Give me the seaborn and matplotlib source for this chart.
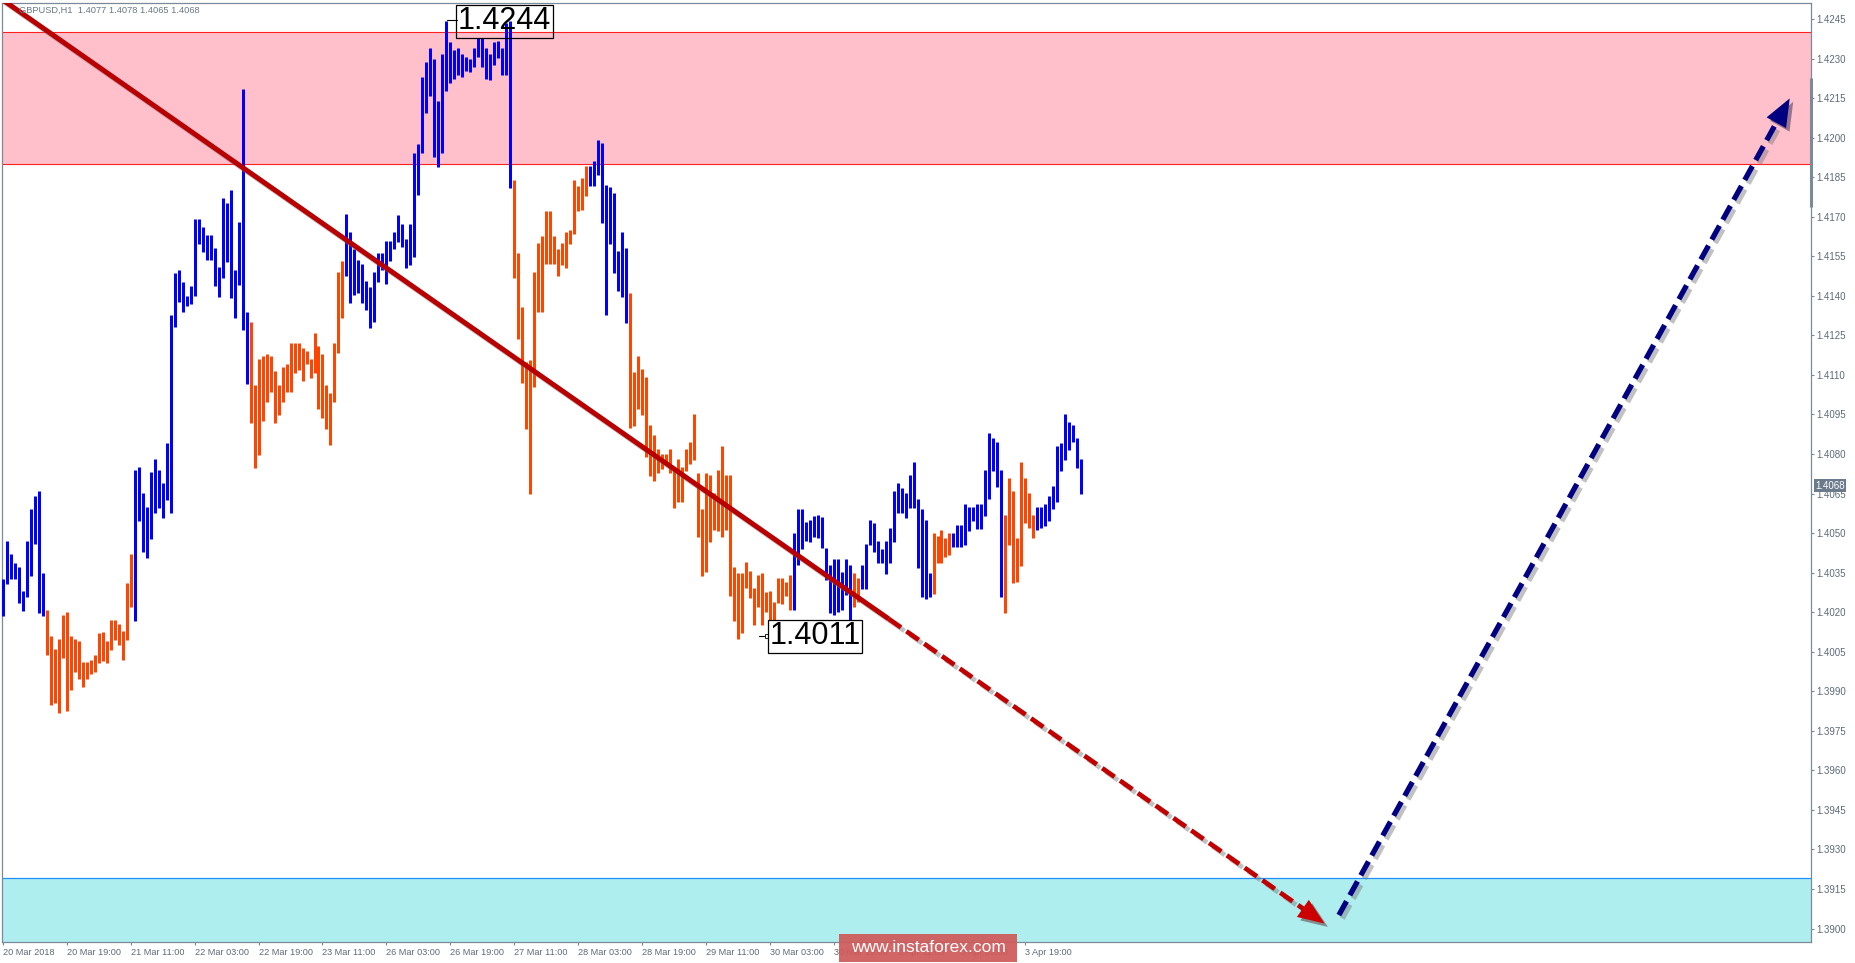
import pandas as pd
import matplotlib
matplotlib.use("Agg")
import matplotlib.pyplot as plt
import matplotlib.patheffects as pe
from matplotlib.patches import Rectangle
from matplotlib.transforms import blended_transform_factory
import seaborn as sns

sns.set_style("white")
plt.rcParams['font.family'] = ['Liberation Sans', 'DejaVu Sans']

# H1 bar highs / lows (GBPUSD)
highs = [1.40327, 1.40469, 1.40421, 1.40388, 1.40370, 1.40280, 1.40469, 1.40591, 1.40639, 1.40661,
         1.40349, 1.40208, 1.40109, 1.40061, 1.40097, 1.40189, 1.40200, 1.40109, 1.40097, 1.40092,
         1.40010, 1.40010, 1.40018, 1.40039, 1.40121, 1.40126, 1.40092, 1.40170, 1.40170, 1.40157,
         1.40128, 1.40309, 1.40421, 1.40741, 1.40751, 1.40651, 1.40598, 1.40730, 1.40780, 1.40739,
         1.40690, 1.40841, 1.41329, 1.41488, 1.41500, 1.41452, 1.41398, 1.41439, 1.41692, 1.41692,
         1.41660, 1.41631, 1.41631, 1.41580, 1.41509, 1.41770, 1.41753, 1.41801, 1.41500, 1.41680,
         1.42183, 1.41340, 1.41300, 1.41063, 1.41162, 1.41172, 1.41179, 1.41172, 1.41114, 1.41063,
         1.41130, 1.41140, 1.41223, 1.41223, 1.41223, 1.41202, 1.41191, 1.41162, 1.41259, 1.41210,
         1.41178, 1.41061, 1.41032, 1.41221, 1.41490, 1.41531, 1.41711, 1.41643, 1.41577, 1.41537,
         1.41519, 1.41458, 1.41432, 1.41490, 1.41563, 1.41563, 1.41609, 1.41609, 1.41643, 1.41708,
         1.41672, 1.41614, 1.41672, 1.41941, 1.41977, 1.42231, 1.42289, 1.42340, 1.42297, 1.42141,
         1.42319, 1.42442, 1.42362, 1.42333, 1.42340, 1.42319, 1.42307, 1.42297, 1.42340, 1.42379,
         1.42379, 1.42340, 1.42319, 1.42362, 1.42365, 1.42340, 1.42435, 1.42442, 1.41839, 1.41563,
         1.41359, 1.41148, 1.41156, 1.41490, 1.41599, 1.41628, 1.41723, 1.41723, 1.41628, 1.41577,
         1.41599, 1.41643, 1.41650, 1.41839, 1.41817, 1.41846, 1.41892, 1.41892, 1.41911, 1.41991,
         1.41981, 1.41820, 1.41814, 1.41791, 1.41570, 1.41643, 1.41583, 1.41412, 1.41112, 1.41172,
         1.41121, 1.41091, 1.40910, 1.40872, 1.40818, 1.40800, 1.40800, 1.40818, 1.40752, 1.40780,
         1.40752, 1.40818, 1.40847, 1.40952, 1.40729, 1.40590, 1.40729, 1.40720, 1.40651, 1.40739,
         1.40830, 1.40720, 1.40720, 1.40372, 1.40347, 1.40347, 1.40391, 1.40357, 1.40290, 1.40341,
         1.40347, 1.40278, 1.40280, 1.40240, 1.40328, 1.40328, 1.40315, 1.40341, 1.40499, 1.40590,
         1.40590, 1.40543, 1.40550, 1.40565, 1.40568, 1.40560, 1.40442, 1.40379, 1.40400, 1.40400,
         1.40353, 1.40400, 1.40379, 1.40350, 1.40328, 1.40379, 1.40459, 1.40550, 1.40540, 1.40470,
         1.40440, 1.40470, 1.40518, 1.40661, 1.40689, 1.40670, 1.40651, 1.40720, 1.40770, 1.40628,
         1.40592, 1.40550, 1.40350, 1.40499, 1.40489, 1.40512, 1.40483, 1.40502, 1.40502, 1.40531,
         1.40531, 1.40610, 1.40598, 1.40598, 1.40610, 1.40610, 1.40740, 1.40879, 1.40860, 1.40847,
         1.40740, 1.40569, 1.40708, 1.40661, 1.40483, 1.40770, 1.40708, 1.40651, 1.40569, 1.40598,
         1.40598, 1.40610, 1.40641, 1.40679, 1.40831, 1.40843, 1.40952, 1.40923, 1.40910, 1.40860,
         1.40780]
lows = [1.40184, 1.40308, 1.40327, 1.40327, 1.40235, 1.40203, 1.40257, 1.40338, 1.40457, 1.40196,
        1.40184, 1.40036, 1.39848, 1.39855, 1.39819, 1.40025, 1.39826, 1.39906, 1.39975, 1.39946,
        1.39917, 1.39946, 1.39967, 1.39975, 1.40007, 1.40015, 1.40007, 1.40055, 1.40094, 1.40076,
        1.40018, 1.40094, 1.40218, 1.40167, 1.40545, 1.40428, 1.40407, 1.40478, 1.40577, 1.40595,
        1.40559, 1.40624, 1.40577, 1.41281, 1.41377, 1.41340, 1.41361, 1.41368, 1.41398, 1.41597,
        1.41565, 1.41536, 1.41536, 1.41439, 1.41397, 1.41469, 1.41529, 1.41391, 1.41317, 1.41440,
        1.41269, 1.41066, 1.40919, 1.40748, 1.40796, 1.40926, 1.40997, 1.41035, 1.40919, 1.40948,
        1.40997, 1.41035, 1.41035, 1.41108, 1.41118, 1.41077, 1.41140, 1.41089, 1.41108, 1.40969,
        1.40938, 1.40894, 1.40836, 1.40996, 1.41185, 1.41316, 1.41475, 1.41374, 1.41403, 1.41410,
        1.41374, 1.41345, 1.41279, 1.41301, 1.41454, 1.41497, 1.41446, 1.41534, 1.41577, 1.41606,
        1.41584, 1.41505, 1.41516, 1.41548, 1.41781, 1.41941, 1.42093, 1.42159, 1.41926, 1.41890,
        1.41941, 1.42176, 1.42209, 1.42224, 1.42239, 1.42231, 1.42253, 1.42249, 1.42268, 1.42307,
        1.42268, 1.42224, 1.42217, 1.42275, 1.42304, 1.42239, 1.42239, 1.41810, 1.41468, 1.41236,
        1.41068, 1.40894, 1.40647, 1.41054, 1.41337, 1.41337, 1.41519, 1.41519, 1.41519, 1.41475,
        1.41516, 1.41507, 1.41595, 1.41635, 1.41723, 1.41725, 1.41779, 1.41817, 1.41817, 1.41858,
        1.41677, 1.41327, 1.41597, 1.41488, 1.41418, 1.41397, 1.41298, 1.40897, 1.40906, 1.40969,
        1.40948, 1.40790, 1.40716, 1.40697, 1.40729, 1.40745, 1.40758, 1.40729, 1.40597, 1.40619,
        1.40619, 1.40737, 1.40762, 1.40777, 1.40486, 1.40337, 1.40353, 1.40467, 1.40512, 1.40508,
        1.40486, 1.40512, 1.40261, 1.40168, 1.40097, 1.40120, 1.40290, 1.40252, 1.40151, 1.40218,
        1.40151, 1.40202, 1.40170, 1.40139, 1.40233, 1.40231, 1.40261, 1.40208, 1.40208, 1.40379,
        1.40438, 1.40471, 1.40467, 1.40484, 1.40480, 1.40442, 1.40322, 1.40198, 1.40189, 1.40202,
        1.40208, 1.40265, 1.40088, 1.40218, 1.40240, 1.40287, 1.40287, 1.40455, 1.40430, 1.40388,
        1.40388, 1.40345, 1.40388, 1.40468, 1.40578, 1.40578, 1.40559, 1.40594, 1.40597, 1.40369,
        1.40259, 1.40249, 1.40259, 1.40268, 1.40388, 1.40388, 1.40408, 1.40417, 1.40449, 1.40449,
        1.40449, 1.40455, 1.40509, 1.40547, 1.40516, 1.40516, 1.40566, 1.40628, 1.40737, 1.40676,
        1.40259, 1.40198, 1.40455, 1.40310, 1.40316, 1.40375, 1.40540, 1.40518, 1.40480, 1.40512,
        1.40518, 1.40528, 1.40547, 1.40590, 1.40619, 1.40737, 1.40777, 1.40815, 1.40847, 1.40748,
        1.40648]

# wave colouring: (direction, number of bars)
wave_runs = [('up', 11), ('down', 22), ('up', 29), ('down', 24), ('up', 42), ('down', 19),
             ('up', 10), ('down', 41), ('up', 15), ('down', 2), ('up', 18), ('down', 5),
             ('up', 13), ('down', 8), ('up', 12)]

tick_bars = [0, 16, 32, 48, 64, 80, 96, 112, 128, 144, 160, 176, 192, 208, 224, 240, 256]
tick_labels = ['20 Mar 2018', '20 Mar 19:00', '21 Mar 11:00', '22 Mar 03:00', '22 Mar 19:00',
               '23 Mar 11:00', '26 Mar 03:00', '26 Mar 19:00', '27 Mar 11:00', '28 Mar 03:00',
               '28 Mar 19:00', '29 Mar 11:00', '30 Mar 03:00', '30 Mar 19:00', '2 Apr 11:00',
               '3 Apr 03:00', '3 Apr 19:00']
price_ticks = [1.4245, 1.4230, 1.4215, 1.4200, 1.4185, 1.4170, 1.4155, 1.4140, 1.4125, 1.4110,
               1.4095, 1.4080, 1.4065, 1.4050, 1.4035, 1.4020, 1.4005, 1.3990, 1.3975, 1.3960,
               1.3945, 1.3930, 1.3915, 1.3900]

# zones
resist_zone = (1.4190, 1.4240)
support_top = 1.3919

# trend lines: (bar, price)
down_solid = [(-0.75, 1.42530), (221.75, 1.40175)]
down_dash = [(221.75, 1.40175), (326.9, 1.39061)]
down_tip = (330.9, 1.39019)
up_dash = [(334.5, 1.39051), (445.0, 1.42083)]
up_tip = (447.4, 1.42149)

# build long table for seaborn
waves = []
for d, n in wave_runs:
    waves += [d] * n
rows = []
for i in range(len(highs)):
    rows.append({'bar': i, 'price': lows[i], 'wave': waves[i]})
    rows.append({'bar': i, 'price': highs[i], 'wave': waves[i]})
bars_df = pd.DataFrame(rows)

fig = plt.figure(figsize=(18.56, 9.63), dpi=100)
ax = fig.add_axes([0.001078, 0.02129, 0.97441, 0.97560])
ax.set_facecolor('white')

ax.axhspan(resist_zone[0], resist_zone[1], color='#FFC0CB', zorder=0, lw=0)
ax.axhline(resist_zone[0], color='#FF2020', lw=0.8, zorder=1)
ax.axhline(resist_zone[1], color='#FF2020', lw=0.8, zorder=1)
ax.axhspan(1.3880, support_top, color='#AFEEEE', zorder=0, lw=0)
ax.axhline(support_top, color='#1E90FF', lw=0.9, zorder=1)

sns.lineplot(data=bars_df, x='bar', y='price', hue='wave', units='bar', estimator=None,
             palette={'up': '#0000FF', 'down': '#FF4500'}, linewidth=2.16, sort=False,
             legend=False, ax=ax, solid_capstyle='butt', zorder=3)

shadow = [pe.SimpleLineShadow(offset=(2.5, -2.5), shadow_color='#777777', alpha=0.45), pe.Normal()]

# downward trend line + forecast
ax.plot([p[0] for p in down_solid], [p[1] for p in down_solid], color='#B80000', lw=3.6,
        solid_capstyle='butt', zorder=4, path_effects=shadow)
ax.plot([p[0] for p in down_dash], [p[1] for p in down_dash], color='#C00000', lw=3.4,
        dashes=(3.2, 1.4), dash_capstyle='butt', zorder=4, path_effects=shadow)
ax.annotate('', xy=down_tip, xytext=down_dash[0],
            arrowprops=dict(arrowstyle='-|>,head_length=1.9,head_width=0.75', color='#CC0000',
                            lw=0, shrinkA=0, shrinkB=0, mutation_scale=10,
                            path_effects=[pe.SimplePatchShadow(offset=(2.5, -2.5), alpha=0.4), pe.Normal()]),
            zorder=5)

# upward forecast
ax.plot([p[0] for p in up_dash], [p[1] for p in up_dash], color='#000080', lw=3.8,
        dashes=(3.0, 1.3), dash_capstyle='butt', zorder=4, path_effects=shadow)
ax.annotate('', xy=up_tip, xytext=up_dash[0],
            arrowprops=dict(arrowstyle='-|>,head_length=2.0,head_width=0.8', color='#000080',
                            lw=0, shrinkA=0, shrinkB=0, mutation_scale=10,
                            path_effects=[pe.SimplePatchShadow(offset=(2.5, -2.5), alpha=0.4), pe.Normal()]),
            zorder=5)

# price labels for extremes
ax.plot([111.3, 113.75], [1.42446, 1.42446], color='black', lw=0.8, zorder=5)
ax.text(113.9, 1.42442, '1.4244', fontsize=22, color='black', ha='left', va='center', zorder=6,
        bbox=dict(boxstyle='square,pad=0.05', facecolor='none', edgecolor='black', lw=0.9))
ax.plot([189.25, 191.6], [1.40109, 1.40109], color='black', lw=0.8, zorder=5)
ax.plot([191.4], [1.40109], marker='s', ms=2.5, mfc='white', mec='black', mew=0.6, zorder=5)
ax.text(191.9, 1.40109, '1.4011', fontsize=22, color='black', ha='left', va='center', zorder=6,
        bbox=dict(boxstyle='square,pad=0.05', facecolor='white', edgecolor='black', lw=0.9))

ax.set_xlim(-0.25, 452.6)
ax.set_ylim(1.38947, 1.42511)
ax.set_xlabel('')
ax.set_ylabel('')

ax.set_xticks(tick_bars)
ax.set_xticklabels(tick_labels, ha='left')
ax.yaxis.tick_right()
ax.set_yticks(price_ticks)
ax.set_yticklabels([f'{v:.4f}' for v in price_ticks])
ax.tick_params(axis='x', direction='out', length=2.5, width=0.8, color='#7b8a99',
               labelsize=6.6, labelcolor='#5c6a78', pad=1.5, bottom=True)
ax.tick_params(axis='y', direction='out', length=2.5, width=0.8, color='#7b8a99',
               labelsize=7, labelcolor='#5c6a78', pad=2, right=True, left=False)
for s in ax.spines.values():
    s.set_color('#7b8a99')
    s.set_linewidth(0.9)

# current price tag and scroll marker on the price scale
bt = blended_transform_factory(ax.transAxes, ax.transData)
ax.plot([1.0, 1.0], [1.42226, 1.41737], transform=bt, color='#7a8a9a', lw=2.2,
        clip_on=False, zorder=6, solid_capstyle='butt')
ax.text(1.0024, 1.4068, '1.4068', transform=bt, fontsize=7, color='white', ha='left',
        va='center', zorder=7, clip_on=False,
        bbox=dict(boxstyle='square,pad=0.12', facecolor='#6b7b8c', edgecolor='none'))

# header
fig.text(0.01024, 0.98962, 'GBPUSD,H1  1.4077 1.4078 1.4065 1.4068', fontsize=6.7,
         color='#6b7785', ha='left', va='center')

# watermark
fig.patches.append(Rectangle((0.45205, 0.00104), 0.09591, 0.02908, transform=fig.transFigure,
                             facecolor='#CF5A5A', alpha=0.93, edgecolor='none', zorder=10))
fig.text(0.5, 0.0156, 'www.instaforex.com', fontsize=12.5, color='white', ha='center',
         va='center', zorder=11)

fig.savefig('out.png', dpi=100)
